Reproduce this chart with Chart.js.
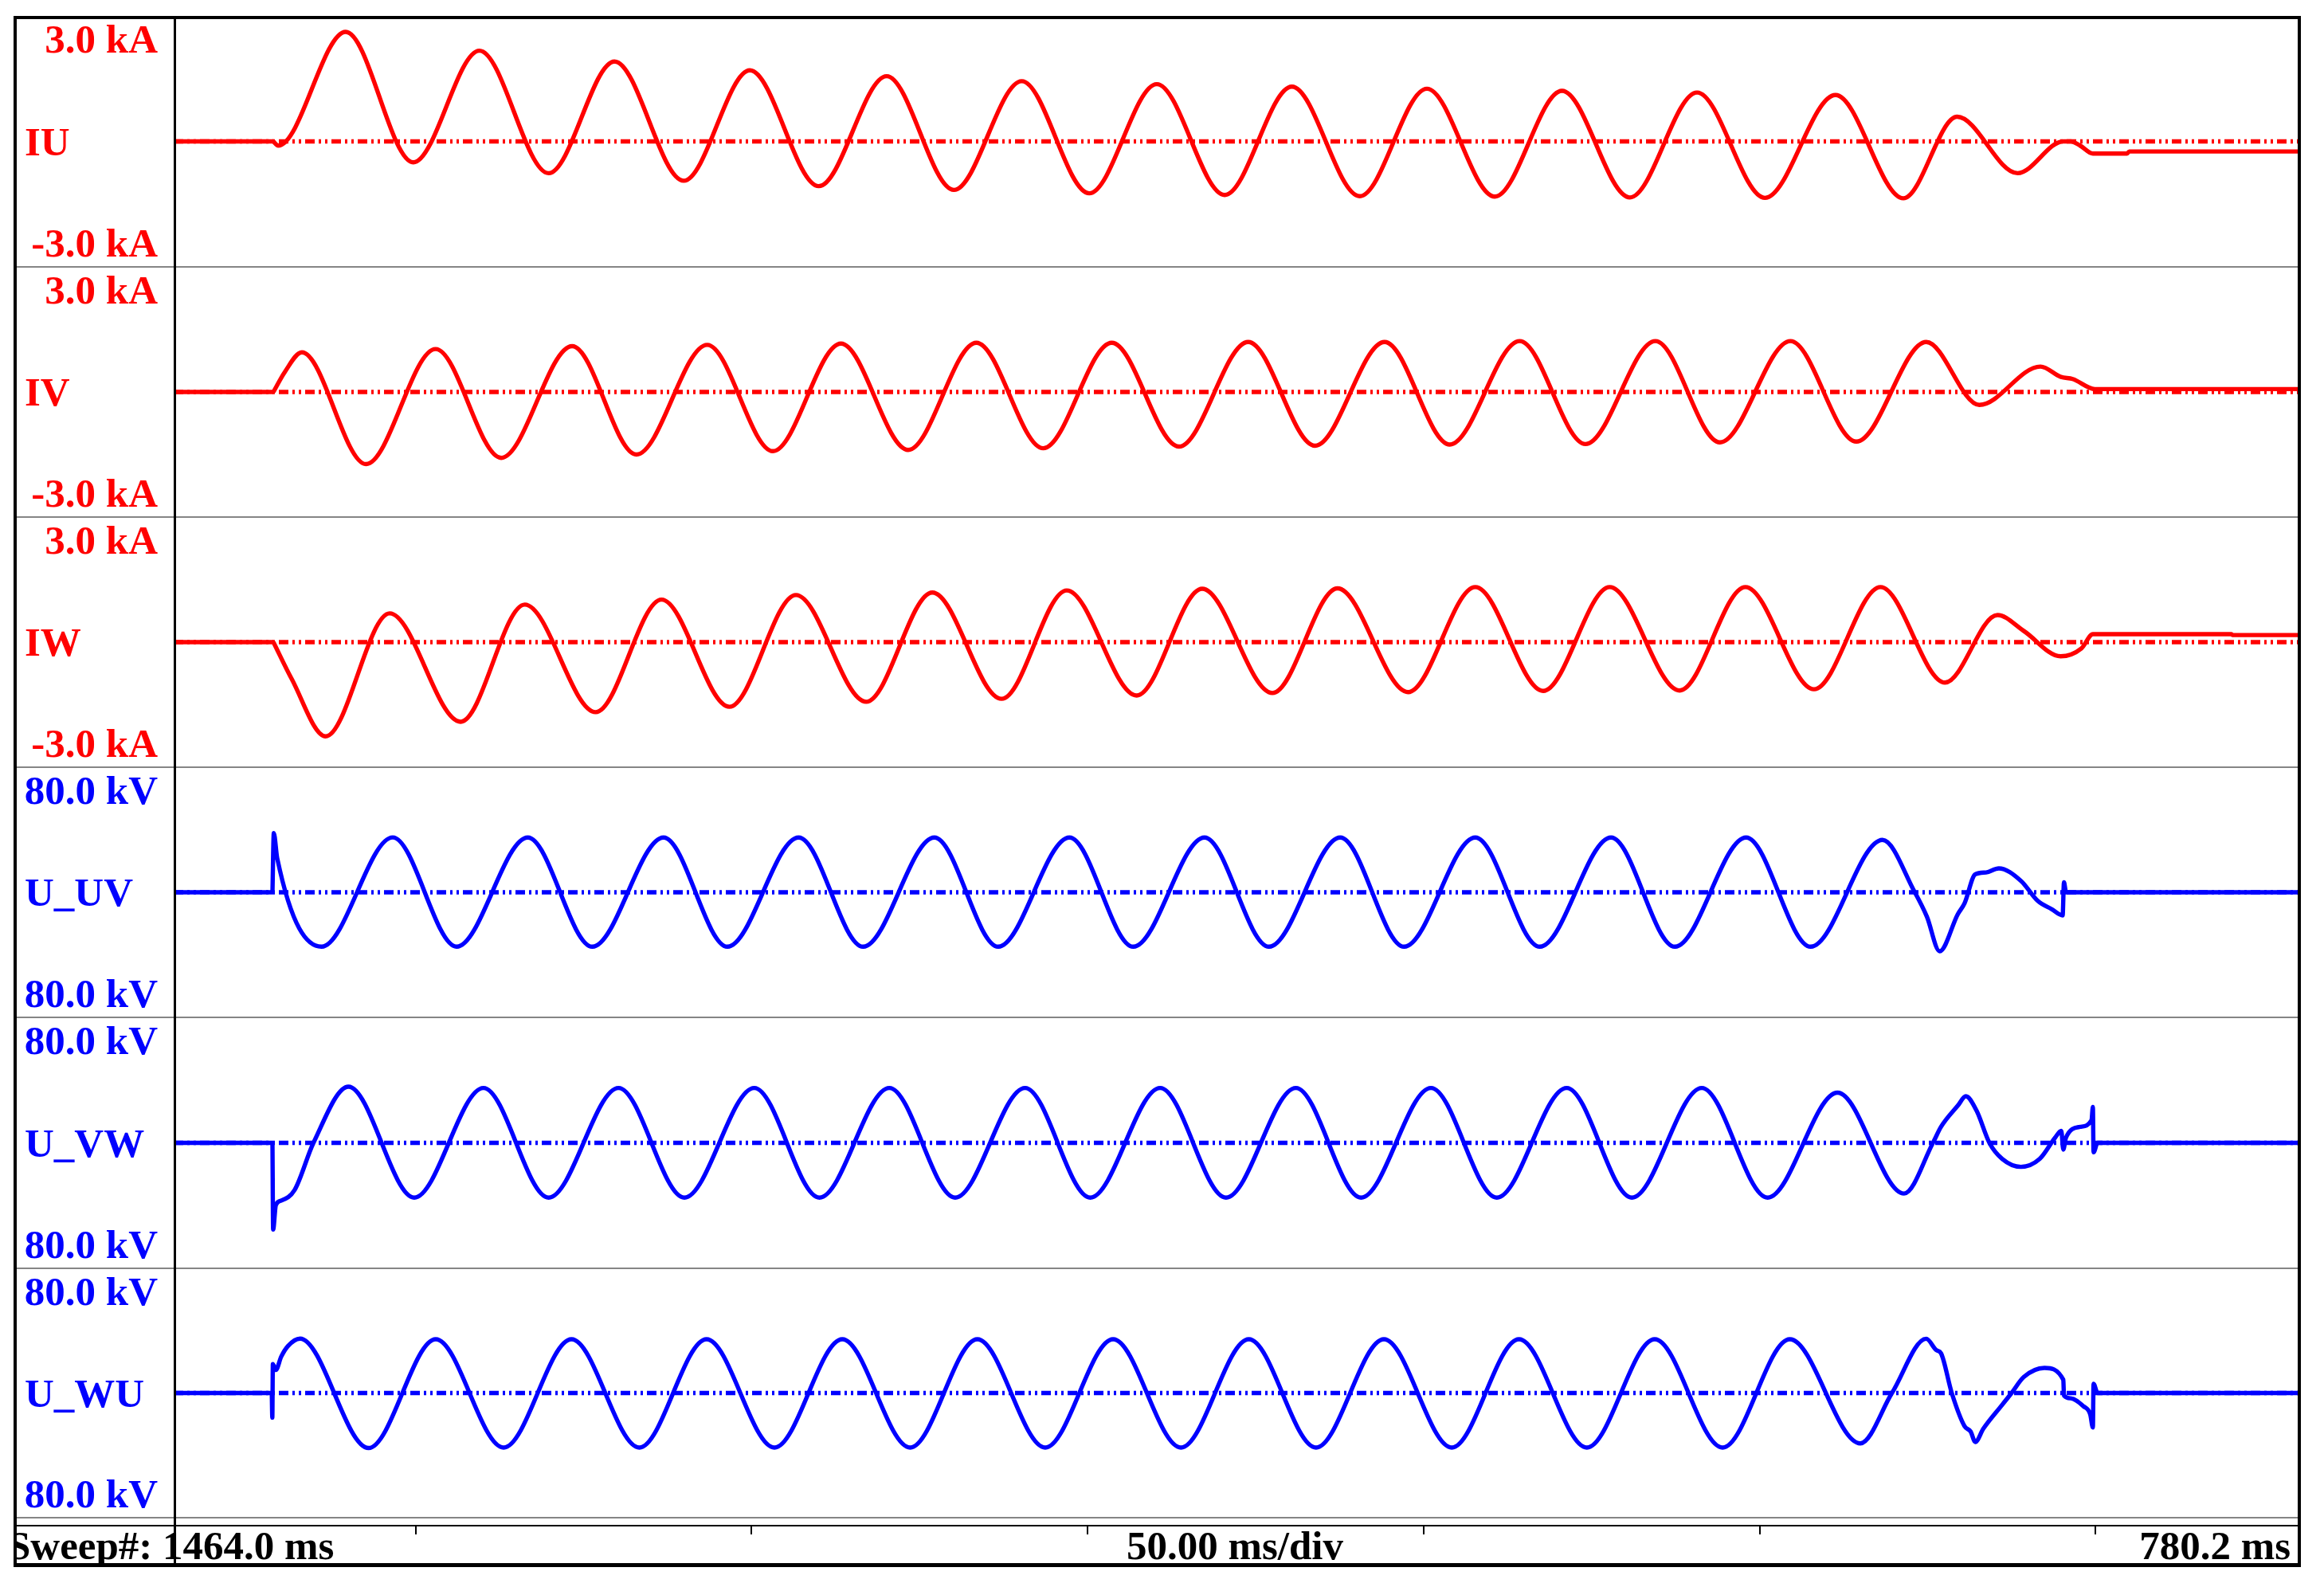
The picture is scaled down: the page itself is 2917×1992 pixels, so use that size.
<!DOCTYPE html>
<html>
<head>
<meta charset="utf-8">
<title>Fault record</title>
<script src="https://cdn.jsdelivr.net/npm/chart.js@4.4.1/dist/chart.umd.min.js"></script>
<style>
html,body{margin:0;padding:0;background:#fff;}
body{width:2917px;height:1992px;overflow:hidden;}
#stage{position:relative;width:2917px;height:1992px;background:#fff;}
canvas{position:absolute;display:block;}
.ln{position:absolute;z-index:6;}
.lbl{position:absolute;font-family:"Liberation Serif","Times New Roman",serif;font-weight:bold;font-size:51px;line-height:51px;height:51px;white-space:nowrap;z-index:4;}
#clipText{position:absolute;left:21px;top:1916px;width:2863px;height:46px;overflow:hidden;z-index:4;}
</style>
</head>
<body>
<div id="stage"></div>
<script>
// ---------------- data ----------------
const timeSpan = [464.0, 780.2];          // ms, left / right edge of sweep
const tickStepMs = 50;                    // 50.00 ms/div

const channelNames  = ['IU', 'IV', 'IW', 'U_UV', 'U_VW', 'U_WU'];
const topLabels     = ['3.0 kA', '3.0 kA', '3.0 kA', '80.0 kV', '80.0 kV', '80.0 kV'];
const bottomLabels  = ['-3.0 kA', '-3.0 kA', '-3.0 kA', '80.0 kV', '80.0 kV', '80.0 kV'];
const fullScale     = [3.0, 3.0, 3.0, 80.0, 80.0, 80.0];
const footerLeft    = 'Sweep#: 1464.0 ms';
const footerMid     = '50.00 ms/div';
const footerRight   = '780.2 ms';

// IU (kA)
const iuTime  = [464.0, 478.84, 479.55, 489.6, 499.66, 509.5, 519.8, 529.6, 539.9, 549.75, 560.0, 570.1, 580.1, 590.2, 600.25, 610.3, 620.4, 630.4, 640.5, 650.5, 660.6, 670.6, 680.7, 690.7, 700.8, 711.3, 721.4, 729.4, 738.4, 745.2, 746.3, 747.7, 749.6, 754.7, 755.0, 780.2];
const iuValue = [0, 0, -0.10, 2.62, -0.50, 2.17, -0.76, 1.91, -0.94, 1.70, -1.07, 1.56, -1.16, 1.44, -1.24, 1.37, -1.28, 1.31, -1.31, 1.26, -1.32, 1.21, -1.34, 1.17, -1.35, 1.11, -1.36, 0.59, -0.76, 0, 0, -0.10, -0.29, -0.29, -0.24, -0.24];

// IV (kA)
const ivTime  = [464.0, 478.84, 480.5, 483.07, 492.62, 502.98, 512.74, 523.3, 532.86, 543.4, 553.17, 563.3, 573.3, 583.45, 593.4, 603.6, 613.6, 623.9, 633.85, 644.2, 653.9, 664.3, 674.1, 684.5, 694.1, 704.6, 714.4, 724.8, 732.7, 741.8, 744.85, 746.6, 749.9, 780.2];
const ivValue = [0, 0, 0.47, 0.95, -1.73, 1.03, -1.58, 1.10, -1.50, 1.13, -1.42, 1.16, -1.39, 1.18, -1.35, 1.18, -1.31, 1.20, -1.29, 1.20, -1.26, 1.22, -1.25, 1.22, -1.21, 1.22, -1.19, 1.20, -0.31, 0.61, 0.36, 0.31, 0.07, 0.07];

// IW (kA)
const iwTime  = [464.0, 478.84, 481.55, 486.6, 496.14, 506.7, 516.25, 526.8, 536.6, 546.7, 556.6, 567.05, 576.9, 587.2, 596.9, 607.3, 617.05, 627.5, 637.2, 647.7, 657.7, 667.8, 677.7, 688.1, 697.9, 708.1, 718.0, 727.6, 735.4, 739.3, 744.8, 747.9, 749.6, 770.2, 770.4, 780.2];
const iwValue = [0, 0, -0.88, -2.26, 0.69, -1.91, 0.90, -1.68, 1.02, -1.55, 1.13, -1.43, 1.19, -1.36, 1.24, -1.28, 1.28, -1.22, 1.29, -1.20, 1.32, -1.17, 1.32, -1.16, 1.32, -1.13, 1.32, -0.97, 0.65, 0.27, -0.34, -0.15, 0.19, 0.19, 0.17, 0.17];

// U_UV (kV)
const uuvTime  = [464.0, 478.7, 478.9, 479.4, 486.0, 496.6, 506.1, 516.7, 526.3, 536.9, 546.4, 557.0, 566.6, 577.2, 586.7, 597.3, 606.8, 617.4, 627.0, 637.6, 647.1, 657.7, 667.3, 677.9, 687.4, 698.0, 707.6, 718.3, 723.1, 724.9, 726.8, 729.5, 730.5, 732.1, 733.7, 735.6, 738.9, 741.4, 743.5, 745.1, 745.3, 745.6, 780.2];
const uuvValue = [0, 0, 37.9, 21.9, -34.8, 35.1, -34.8, 35.0, -34.8, 35.0, -34.8, 35.0, -34.8, 35.0, -34.8, 35.0, -34.8, 35.0, -34.8, 35.0, -34.8, 35.0, -34.8, 35.0, -34.8, 35.0, -34.8, 33.5, 0, -15.6, -37.7, -14.0, -7.1, 11.5, 12.7, 15.3, 7.3, -5.5, -10.9, -14.8, 6.4, 0, 0];

// U_VW (kV)
const uvwTime  = [464.0, 478.7, 478.8, 479.2, 480.0, 482.0, 484.8, 490.0, 499.8, 510.1, 519.8, 530.2, 540.0, 550.4, 560.1, 570.5, 580.3, 590.7, 600.4, 610.8, 620.6, 631.0, 640.7, 651.1, 660.9, 671.3, 681.0, 691.4, 701.2, 711.6, 721.5, 725.8, 727.0, 729.5, 730.7, 732.3, 734.2, 736.1, 738.9, 741.7, 744.0, 744.9, 745.2, 745.6, 747.7, 749.4, 749.6, 749.7, 750.3, 780.2];
const uvwValue = [0, 0, -55.3, -39.7, -36.8, -30.0, 0, 35.8, -34.9, 35.0, -34.9, 35.0, -34.9, 35.0, -34.9, 35.0, -34.9, 35.0, -34.9, 35.0, -34.9, 35.0, -34.9, 35.0, -34.9, 35.0, -34.9, 35.0, -34.9, 32.0, -32.3, 0, 10.2, 23.7, 29.7, 20.4, 0, -10.2, -15.3, -10.2, 3.4, 7.6, -4.3, 3.4, 10.2, 14.4, 22.9, -6.0, 0, 0];

// U_WU (kV)
const uwuTime  = [464.0, 478.6, 478.68, 478.76, 479.2, 480.0, 481.0, 482.8, 493.0, 503.0, 513.1, 523.2, 533.3, 543.3, 553.4, 563.5, 573.6, 583.6, 593.7, 603.8, 613.9, 624.0, 634.0, 644.1, 654.2, 664.2, 674.3, 684.4, 694.5, 704.5, 715.0, 719.7, 724.8, 726.3, 727.0, 728.6, 730.5, 731.4, 732.1, 733.3, 736.1, 737.5, 739.3, 742.4, 745.2, 745.3, 746.3, 748.2, 749.2, 749.6, 749.7, 750.3, 780.2];
const uwuValue = [0, 0, -15.8, 18.6, 14.8, 23.3, 30.1, 34.9, -35.3, 34.5, -35.0, 34.5, -35.0, 34.5, -35.0, 34.5, -35.0, 34.5, -35.0, 34.5, -35.0, 34.5, -35.0, 34.5, -35.0, 34.5, -35.0, 34.5, -35.0, 34.5, -32.3, 0, 34.8, 27.5, 25.5, 0, -21.3, -24.7, -31.4, -22.9, -7.6, 0, 10.2, 16.1, 8.5, -1.7, -3.4, -8.5, -13.6, -22.1, 5.9, 0, 0];

const channelTimes  = [iuTime, ivTime, iwTime, uuvTime, uvwTime, uwuTime];
const channelValues = [iuValue, ivValue, iwValue, uuvValue, uvwValue, uwuValue];

// ---------------- layout / style ----------------
const RED = '#ff0000', BLUE = '#0000ff';
const channelColors = [RED, RED, RED, BLUE, BLUE, BLUE];
const panelEdges = [20, 335, 649, 963, 1277, 1592, 1905];
const plotLeft = 218, plotWidth = 2667;
const LABEL_ASC = 42.7; // baseline offset for 51px Liberation Serif with 51px line-height
const TRACE_W = 5.4;

const stage = document.getElementById('stage');

function addLine(x, y, w, h, color) {
  const d = document.createElement('div');
  d.className = 'ln';
  d.style.left = x + 'px'; d.style.top = y + 'px';
  d.style.width = w + 'px'; d.style.height = h + 'px';
  d.style.background = color;
  stage.appendChild(d);
}
function addLabel(text, color, baseline, opts) {
  const d = document.createElement('div');
  d.className = 'lbl';
  d.textContent = text;
  d.style.color = color;
  d.style.top = (baseline - LABEL_ASC) + 'px';
  if (opts.right !== undefined) {
    d.style.left = '0px'; d.style.width = opts.right + 'px'; d.style.textAlign = 'right';
  } else {
    d.style.left = opts.left + 'px';
  }
  (opts.parent || stage).appendChild(d);
  return d;
}

const commonOptions = (yRange) => ({
  responsive: false,
  animation: false,
  devicePixelRatio: 1,
  events: [],
  layout: { padding: 0 },
  plugins: { legend: { display: false }, tooltip: { enabled: false }, title: { display: false } },
  scales: {
    x: { type: 'linear', display: false, min: timeSpan[0], max: timeSpan[1] },
    y: { type: 'linear', display: false, min: -yRange, max: yRange }
  }
});

// traces
for (let i = 0; i < 6; i++) {
  const top = panelEdges[i], h = panelEdges[i + 1] - panelEdges[i];
  const cv = document.createElement('canvas');
  cv.width = plotWidth; cv.height = h;
  cv.style.left = plotLeft + 'px'; cv.style.top = top + 'px';
  cv.style.width = plotWidth + 'px'; cv.style.height = h + 'px';
  stage.appendChild(cv);
  const pts = channelTimes[i].map((t, k) => ({ x: t, y: channelValues[i][k] }));
  const preFault = pts.slice(0, 2);      // flat record before inception
  const fault = pts.slice(1);            // from inception onwards
  const color = channelColors[i];
  new Chart(cv.getContext('2d'), {
    type: 'line',
    data: {
      datasets: [
        { label: channelNames[i], data: fault, borderColor: color, borderWidth: TRACE_W,
          pointRadius: 0, cubicInterpolationMode: 'monotone', fill: false, order: 0, clip: false,
          borderJoinStyle: 'round', borderCapStyle: 'butt' },
        { label: channelNames[i] + ' pre', data: preFault, borderColor: color, borderWidth: TRACE_W,
          pointRadius: 0, tension: 0, fill: false, order: 0, clip: false, borderCapStyle: 'butt' },
        { label: 'zero', data: [{ x: timeSpan[0], y: 0 }, { x: timeSpan[1], y: 0 }],
          borderColor: color, borderWidth: TRACE_W, borderDash: [12, 5, 3, 5, 3, 5],
          pointRadius: 0, tension: 0, fill: false, order: 1, clip: false }
      ]
    },
    options: commonOptions(fullScale[i])
  });

  // channel labels
  addLabel(topLabels[i], color, top + 46.5, { right: 198 });
  addLabel(channelNames[i], color, (top + panelEdges[i + 1]) / 2 + 18, { left: 31 });
  addLabel(bottomLabels[i], color, panelEdges[i + 1] - 12.5, { right: 198 });
}

// time-division ticks along the footer strip
{
  const cv = document.createElement('canvas');
  cv.width = plotWidth; cv.height = 10;
  cv.style.left = plotLeft + 'px'; cv.style.top = '1916px';
  cv.style.width = plotWidth + 'px'; cv.style.height = '10px';
  stage.appendChild(cv);
  const opts = commonOptions(1);
  opts.scales.x = {
    type: 'linear', display: true, position: 'bottom', min: timeSpan[0], max: timeSpan[1],
    ticks: { display: false, stepSize: tickStepMs, includeBounds: false },
    grid: { display: true, drawOnChartArea: true, drawTicks: false, color: '#000000', lineWidth: 2 },
    border: { display: false }
  };
  new Chart(cv.getContext('2d'), { type: 'line', data: { datasets: [] }, options: opts });
}

// frame and separators
for (let i = 1; i < 6; i++) addLine(21, panelEdges[i] - 1, 2863, 2, '#858585');
addLine(21, 1904, 2863, 2, '#858585');
addLine(21, 1914, 2863, 2, '#000000');
addLine(17, 20, 2871, 4, '#000000');      // top
addLine(17, 1962, 2871, 5, '#000000');    // bottom
addLine(17, 20, 4, 1947, '#000000');      // left
addLine(2884, 20, 4, 1947, '#000000');    // right
addLine(218, 22, 3, 1942, '#000000');     // label column divider

// footer texts
const clip = document.createElement('div');
clip.id = 'clipText';
stage.appendChild(clip);
const fb = 1958 - 1916;
addLabel(footerLeft, '#000', fb, { left: -11, parent: clip });
addLabel(footerMid, '#000', fb, { left: 1414 - 21, parent: clip });
addLabel(footerRight, '#000', fb, { right: 2875 - 21, parent: clip });
</script>
</body>
</html>
